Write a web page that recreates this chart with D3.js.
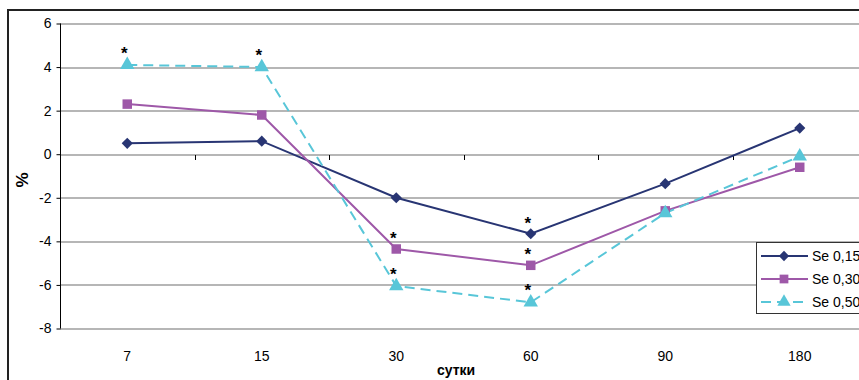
<!DOCTYPE html>
<html>
<head>
<meta charset="utf-8">
<script src="https://cdn.jsdelivr.net/npm/d3@7"></script>
<style>
  body { margin: 0; background: #fff; }
  svg { display: block; font-family: Arial, "Liberation Sans", sans-serif; }
</style>
</head>
<body>
<div id="chart"></div>
<script>
// data
const days = ["7", "15", "30", "60", "90", "180"];
const se015 = [0.5, 0.6, -2.0, -3.65, -1.35, 1.2];
const se030 = [2.3, 1.8, -4.35, -5.1, -2.6, -0.6];
const se050 = [4.1, 4.0, -6.05, -6.8, -2.7, -0.1];
const seriesNames = ["Se 0,15", "Se 0,30", "Se 0,50"];
const yTicks = [6, 4, 2, 0, -2, -4, -6, -8];
// which points carry a significance star
const stars015 = [false, false, false, true, false, false];
const stars030 = [false, false, true, true, false, false];
const stars050 = [true, true, true, true, false, false];

const W = 859, H = 380;
var margin = { top: 23.5, left: 60 };
var plotW = 807, plotH = 305;

const svg = d3.select("#chart").append("svg")
    .attr("width", W)
    .attr("height", H);

// outer frame (cut off on right and bottom like the source)
svg.append("rect")
    .attr("x", 8).attr("y", 10)
    .attr("width", W + 20).attr("height", H + 20)
    .attr("fill", "none")
    .attr("stroke", "#222")
    .attr("stroke-width", 2);

const g = svg.append("g")
    .attr("transform", "translate(" + margin.left + "," + margin.top + ")");

var x = d3.scaleBand()
    .domain(days)
    .range([0, plotW]);

var y = d3.scaleLinear()
    .domain([-8, 6])
    .range([plotH, 0]);

// horizontal grid
g.append("g")
    .selectAll("line")
    .data(yTicks)
    .enter()
    .append("line")
    .attr("x1", 0).attr("x2", plotW)
    .attr("y1", d => Math.round(y(d)) + 0.5)
    .attr("y2", d => Math.round(y(d)) + 0.5)
    .attr("stroke", "#6e6e6e")
    .attr("stroke-width", 1.2);

// y axis
const yAxis = g.append("g")
    .attr("transform", "translate(0.5,0)")
    .call(d3.axisLeft(y).tickValues(yTicks).tickSize(4).tickSizeOuter(0).tickFormat(d3.format("d")));
yAxis.select(".domain").attr("stroke", "#000").attr("d", "M0," + y(6) + "V" + y(-8));
yAxis.selectAll(".tick line").attr("stroke", "#000");
yAxis.selectAll(".tick text")
    .attr("x", -9)
    .style("font-size", "14px")
    .attr("fill", "#000")
    .text(d => d < 0 ? "-" + Math.abs(d) : d);

// x axis on zero line, ticks between categories
const xAxis = g.append("g")
    .attr("transform", "translate(0," + (Math.round(y(0)) + 0.5) + ")");
xAxis.selectAll("line")
    .data(days.slice(1))
    .enter()
    .append("line")
    .attr("x1", d => Math.round(x(d)) + 0.5)
    .attr("x2", d => Math.round(x(d)) + 0.5)
    .attr("y1", 0).attr("y2", 5)
    .attr("stroke", "#000");

// category labels at bottom
g.append("g")
    .selectAll("text")
    .data(days)
    .enter()
    .append("text")
    .attr("x", d => x(d) + x.bandwidth() / 2)
    .attr("y", plotH + 32)
    .attr("text-anchor", "middle")
    .style("font-size", "14px")
    .text(d => d);

// axis titles
svg.append("text")
    .attr("x", 456).attr("y", 375)
    .attr("text-anchor", "middle")
    .style("font-size", "14px")
    .style("font-weight", "bold")
    .text("сутки");

svg.append("text")
    .attr("transform", "translate(28,180) rotate(-90)")
    .attr("text-anchor", "middle")
    .style("font-size", "17px")
    .style("font-weight", "bold")
    .text("%");

const cx = d => x(d) + x.bandwidth() / 2;

// diamond = square turned 45deg (Excel style)
var series = [
    { name: seriesNames[0], values: se015, stars: stars015, color: "#283573", dash: null, shape: d3.symbolSquare, rot: 45, size: 62, starGap: 14 },
    { name: seriesNames[1], values: se030, stars: stars030, color: "#9e58a8", dash: null, shape: d3.symbolSquare, rot: 0, size: 90, starGap: 14 },
    { name: seriesNames[2], values: se050, stars: stars050, color: "#58c6d8", dash: "10,6", shape: d3.symbolTriangle, rot: 0, size: 90, starGap: 15 }
];

var line = d3.line()
    .x((d, i) => cx(days[i]))
    .y(d => y(d));

series.forEach(s => {
    g.append("path")
        .datum(s.values)
        .attr("d", line)
        .attr("fill", "none")
        .attr("stroke", s.color)
        .attr("stroke-width", 2)
        .attr("stroke-dasharray", s.dash);
});

series.forEach(s => {
    g.selectAll(null)
        .data(s.values)
        .enter()
        .append("path")
        .attr("d", d3.symbol().type(s.shape).size(s.size))
        .attr("transform", (d, i) => "translate(" + cx(days[i]) + "," + y(d) + ") rotate(" + s.rot + ")")
        .attr("fill", s.color);

    g.selectAll(null)
        .data(s.values.map((v, i) => ({ v: v, i: i })).filter(d => s.stars[d.i]))
        .enter()
        .append("text")
        .attr("x", d => cx(days[d.i]) - 3)
        .attr("y", d => y(d.v) - s.starGap + 9)
        .attr("text-anchor", "middle")
        .style("font-size", "17px")
        .style("font-weight", "bold")
        .text("*");
});

// legend
const legend = svg.append("g").attr("transform", "translate(756,242)");
legend.append("rect")
    .attr("x", 0.5).attr("y", 0.5)
    .attr("width", 120).attr("height", 71)
    .attr("fill", "#fff")
    .attr("stroke", "#333")
    .attr("stroke-width", 1);

series.forEach((s, i) => {
    const ly = 14 + i * 23;
    legend.append("line")
        .attr("x1", 5).attr("x2", 52)
        .attr("y1", ly).attr("y2", ly)
        .attr("stroke", s.color)
        .attr("stroke-width", 2)
        .attr("stroke-dasharray", s.dash);
    legend.append("path")
        .attr("d", d3.symbol().type(s.shape).size(s.size * 0.85))
        .attr("transform", "translate(28," + ly + ") rotate(" + s.rot + ")")
        .attr("fill", s.color);
    legend.append("text")
        .attr("x", 56).attr("y", ly + 5)
        .style("font-size", "14px")
        .text(s.name);
});
</script>
</body>
</html>
